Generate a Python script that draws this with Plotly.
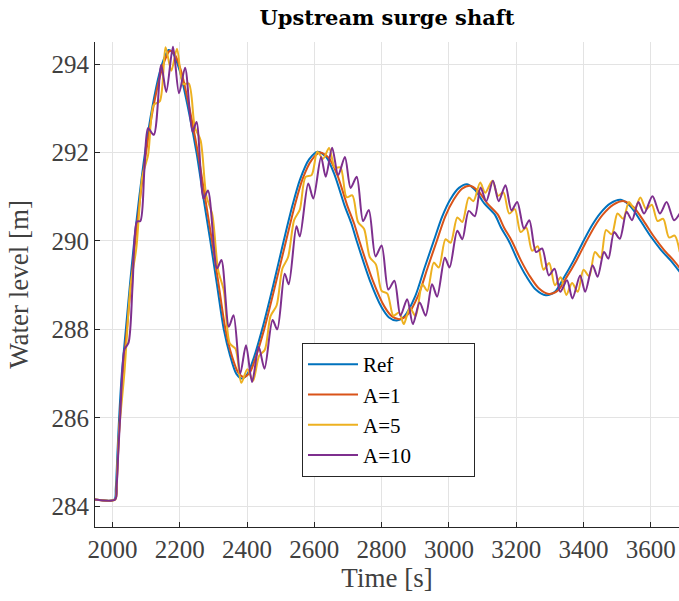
import plotly.graph_objects as go

# ---------------- data ----------------
ref_time = [1948, 2006, 2010, 2015, 2020, 2028, 2040, 2052, 2065, 2080, 2097, 2118, 2140, 2155, 2167, 2180,
            2200, 2225, 2250, 2270, 2291, 2311, 2331, 2350, 2368, 2385, 2402, 2420, 2445, 2478, 2509, 2535,
            2558, 2585, 2610, 2635, 2660, 2690, 2710, 2726, 2765, 2800, 2822, 2845, 2868, 2900, 2928, 2955,
            2980, 3005, 3030, 3054, 3078, 3105, 3136, 3155, 3178, 3205, 3230, 3258, 3288, 3315, 3340, 3370,
            3400, 3425, 3449, 3480, 3511, 3540, 3570, 3600, 3630, 3660, 3686]
ref_level = [284.15, 284.15, 284.4, 285.2, 286.0, 287.0, 288.0, 289.0, 290.0, 291.0, 292.0, 293.0, 293.8, 294.15, 294.32, 294.25,
             293.85, 293.0, 292.0, 291.0, 290.0, 289.0, 288.0, 287.4, 287.0, 286.89, 287.0, 287.35, 288.0, 289.0, 290.0, 290.8,
             291.4, 291.85, 292.02, 291.9, 291.5, 290.8, 290.4, 290.0, 289.11, 288.5, 288.27, 288.2, 288.3, 288.75, 289.4, 290.0,
             290.55, 290.95, 291.2, 291.28, 291.15, 290.85, 290.6, 290.3, 290.0, 289.55, 289.2, 288.9, 288.77, 288.85, 289.15, 289.55,
             290.0, 290.35, 290.62, 290.85, 290.93, 290.78, 290.45, 290.1, 289.8, 289.55, 289.3]

a1_time = [1948, 2008, 2012, 2017, 2022, 2031, 2043, 2055, 2068, 2083, 2100, 2121, 2144, 2159, 2171, 2184,
           2204, 2229, 2254, 2275, 2296, 2316, 2336, 2355, 2374, 2391, 2408, 2426, 2451, 2484, 2516, 2542,
           2565, 2592, 2617, 2643, 2668, 2698, 2718, 2734, 2773, 2808, 2830, 2853, 2877, 2909, 2937, 2964,
           2989, 3014, 3039, 3063, 3087, 3114, 3145, 3164, 3187, 3214, 3239, 3267, 3297, 3324, 3349, 3379,
           3409, 3434, 3458, 3489, 3520, 3549, 3579, 3609, 3639, 3669, 3695]
a1_level = [284.15, 284.15, 284.4, 285.2, 286.0, 287.0, 288.0, 289.0, 290.0, 291.0, 292.0, 293.0, 293.8, 294.15, 294.3, 294.23,
            293.85, 293.0, 292.0, 291.0, 290.0, 289.0, 288.0, 287.4, 287.02, 286.92, 287.02, 287.37, 288.0, 289.0, 290.0, 290.8,
            291.4, 291.83, 292.0, 291.88, 291.5, 290.8, 290.4, 290.0, 289.12, 288.52, 288.3, 288.23, 288.33, 288.77, 289.4, 290.0,
            290.55, 290.93, 291.18, 291.25, 291.13, 290.85, 290.6, 290.3, 290.0, 289.56, 289.22, 288.93, 288.8, 288.88, 289.17, 289.56,
            290.0, 290.34, 290.6, 290.82, 290.9, 290.76, 290.45, 290.1, 289.8, 289.55, 289.3]

a5_time = [1948, 2008, 2013, 2020, 2036, 2054, 2071, 2089, 2106, 2123, 2141, 2158, 2175, 2192, 2210, 2227,
           2245, 2262, 2279, 2297, 2314, 2331, 2349, 2366, 2383, 2401, 2418, 2436, 2453, 2470, 2488, 2505,
           2522, 2540, 2557, 2574, 2592, 2609, 2626, 2644, 2661, 2678, 2696, 2713, 2730, 2748, 2765, 2783,
           2800, 2817, 2835, 2852, 2866, 2884, 2901, 2921, 2936, 2955, 2970, 2990, 3005, 3025, 3040, 3059,
           3073, 3093, 3108, 3129, 3146, 3162, 3179, 3196, 3213, 3230, 3247, 3264, 3281, 3298, 3315, 3332,
           3349, 3366, 3383, 3400, 3417, 3434, 3451, 3467, 3484, 3501, 3518, 3535, 3552, 3569, 3586, 3603,
           3620, 3637, 3654, 3671, 3686]
a5_level = [284.15, 284.15, 284.6, 285.7, 287.05, 288.99, 289.83, 291.46, 291.94, 293.08, 293.16, 294.38, 293.85, 294.35, 293.55, 293.56,
            292.57, 292.28, 291.03, 290.59, 289.35, 288.88, 287.68, 287.56, 286.79, 287.1, 286.84, 287.4, 287.54, 288.3, 288.54, 289.37,
            289.63, 290.47, 290.71, 291.45, 291.49, 292.02, 291.86, 292.1, 291.66, 291.66, 290.99, 291.03, 290.43, 290.27, 289.63, 289.47,
            288.87, 288.81, 288.31, 288.38, 288.12, 288.49, 288.3, 289.02, 288.87, 289.51, 289.4, 290.04, 289.96, 290.53, 290.43, 290.98,
            290.9, 291.32, 291.09, 291.36, 291.02, 291.1, 290.62, 290.72, 290.2, 290.3, 289.78, 289.88, 289.35, 289.5, 289.0, 289.18,
            288.78, 289.05, 288.85, 289.35, 289.2, 289.75, 289.62, 290.25, 290.15, 290.62, 290.5, 290.88, 290.72, 290.98, 290.72, 290.82,
            290.45, 290.5, 290.08, 290.12, 289.75]

a10_time = [1948, 2008, 2013, 2018, 2023, 2030, 2036, 2048, 2060, 2073, 2083, 2095, 2106, 2123, 2145, 2160,
            2180, 2198, 2216, 2238, 2250, 2271, 2284, 2311, 2324, 2346, 2360, 2380, 2397, 2415, 2435, 2452,
            2476, 2490, 2512, 2524, 2547, 2557, 2582, 2597, 2620, 2634, 2653, 2671, 2691, 2708, 2726, 2745,
            2762, 2782, 2800, 2820, 2838, 2856, 2876, 2893, 2913, 2931, 2950, 2965, 2988, 3002, 3025, 3040,
            3059, 3077, 3094, 3111, 3131, 3148, 3168, 3186, 3203, 3223, 3239, 3259, 3277, 3297, 3314, 3331,
            3351, 3367, 3390, 3405, 3427, 3442, 3461, 3474, 3491, 3508, 3528, 3544, 3563, 3580, 3605, 3627,
            3647, 3669, 3686]
a10_level = [284.15, 284.15, 284.5, 285.3, 286.0, 287.1, 287.55, 287.7, 289.0, 290.44, 290.45, 291.6, 292.55, 292.4, 293.98, 293.37,
             294.39, 293.34, 293.92, 292.47, 292.69, 290.96, 291.14, 289.38, 289.57, 288.06, 288.32, 287.0, 287.64, 286.81, 287.6, 287.11,
             288.21, 288.0, 289.26, 289.02, 290.33, 290.1, 291.3, 290.96, 291.9, 291.45, 292.11, 291.49, 291.9, 291.2, 291.45, 290.45,
             290.7, 289.65, 289.9, 288.9, 289.1, 288.31, 288.68, 288.12, 288.61, 288.31, 289.02, 288.74, 289.62, 289.4, 290.23, 290.04,
             290.68, 290.56, 291.21, 290.9, 291.36, 290.9, 291.26, 290.69, 290.88, 290.28, 290.47, 289.75, 289.83, 289.22, 289.37, 288.85,
             289.11, 288.7, 289.22, 288.85, 289.45, 289.19, 289.75, 289.6, 290.2, 290.05, 290.66, 290.47, 290.88, 290.62, 291.01, 290.62,
             290.88, 290.47, 290.62]

series_names = ["Ref", "A=1", "A=5", "A=10"]
series_colors = ["#0072BD", "#D95319", "#EDB120", "#7E2F8E"]

x_ticks = [2000, 2200, 2400, 2600, 2800, 3000, 3200, 3400, 3600]
y_ticks = [284, 286, 288, 290, 292, 294]

# ---------------- figure ----------------
FONT = "Liberation Serif"
TXT = "#404040"
AX = "#262626"
GRID = "#e3e3e3"
PAD = "\u00a0" * 11

fig = go.Figure()
data = [(ref_time, ref_level), (a1_time, a1_level), (a5_time, a5_level), (a10_time, a10_level)]
for (tx, ty), name, col in zip(data, series_names, series_colors):
    fig.add_trace(go.Scatter(
        x=tx, y=ty, mode="lines", name=name + PAD, legendgroup=name,
        line=dict(color=col, width=2, shape="spline", smoothing=0.8),
    ))

fig.update_layout(
    width=679, height=601,
    margin=dict(l=95, r=0, t=42, b=74),
    paper_bgcolor="white", plot_bgcolor="white",
    font=dict(family=FONT, color=TXT),
    title=dict(text="<b>Upstream surge shaft</b>", x=(95 + 679) / 2 / 679, xanchor="center",
               y=1 - 18 / 601, yanchor="middle", yref="container",
               font=dict(family="DejaVu Serif", size=21, color="#000000")),
    showlegend=True,
    legend=dict(x=(302 - 95) / 584, y=(527 - 343) / 485, xanchor="left", yanchor="top",
                bgcolor="white", bordercolor=AX, borderwidth=1,
                font=dict(family=FONT, size=21, color="#000000"),
                traceorder="grouped", tracegroupgap=0, itemwidth=50),
)
fig.update_xaxes(
    range=[1948.3, 3683.8], tickmode="array", tickvals=x_ticks, ticktext=[str(v) for v in x_ticks],
    showgrid=True, gridcolor=GRID, gridwidth=1, zeroline=False,
    showline=True, linecolor=AX, linewidth=1, mirror=False,
    ticks="inside", ticklen=5, tickcolor=AX, tickwidth=1,
    tickfont=dict(family=FONT, size=25, color=TXT),
    title=dict(text="Time [s]", font=dict(family=FONT, size=27, color=TXT), standoff=3),
)
fig.update_yaxes(
    range=[283.53, 294.5], tickmode="array", tickvals=y_ticks, ticktext=[str(v) for v in y_ticks],
    showgrid=True, gridcolor=GRID, gridwidth=1, zeroline=False,
    showline=True, linecolor=AX, linewidth=1, mirror=False,
    ticks="inside", ticklen=5, tickcolor=AX, tickwidth=1,
    tickfont=dict(family=FONT, size=25, color=TXT),
    title=dict(text="Water level [m]", font=dict(family=FONT, size=27, color=TXT), standoff=15),
)

fig.write_html("out.html")
